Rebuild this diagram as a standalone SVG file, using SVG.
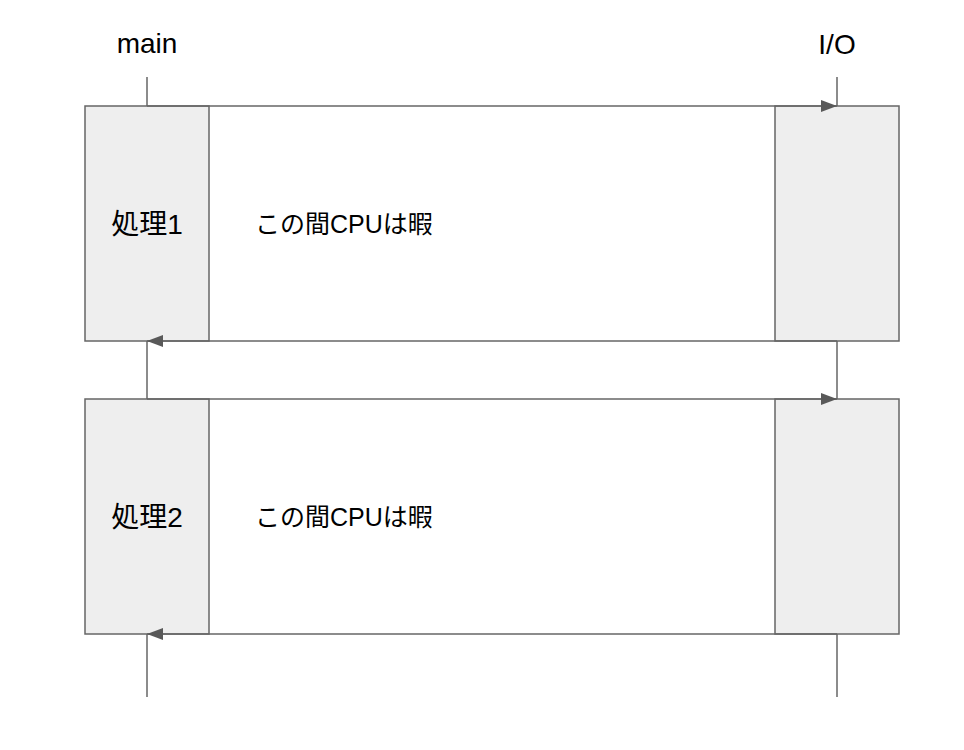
<svg xmlns="http://www.w3.org/2000/svg" width="964" height="750" viewBox="0 0 964 750">
<style>
.box{fill:#eeeeee;stroke:#666666;stroke-width:1.5}
.line{stroke:#666666;stroke-width:1.5;fill:none}
.lbl{font-family:"Liberation Sans","Noto Sans CJK JP",sans-serif;fill:#000000}
</style>
<defs>
<marker id="ah" markerUnits="userSpaceOnUse" markerWidth="16" markerHeight="12" refX="16" refY="6" orient="auto">
<path d="M0,0 L16,6 L0,12 Z" fill="#595959"/>
</marker>
</defs>
<rect width="964" height="750" fill="#ffffff"/>
<g id="lbl-main"><text class="lbl" x="147" y="53" font-size="28" text-anchor="middle">main</text></g>
<g id="lbl-io"><text class="lbl" x="837" y="54" font-size="28" text-anchor="middle">I/O</text></g>
<g id="main1"><rect class="box" x="85" y="106" width="124" height="235"/><text class="lbl" x="147" y="234" font-size="28" text-anchor="middle">処理1</text></g>
<g id="io1"><rect class="box" x="775" y="106" width="124" height="235"/></g>
<g id="idle1"><text class="lbl" x="255" y="233" font-size="25">この間CPUは暇</text></g>
<g id="main2"><rect class="box" x="85" y="399" width="124" height="235"/><text class="lbl" x="147" y="527" font-size="28" text-anchor="middle">処理2</text></g>
<g id="io2"><rect class="box" x="775" y="399" width="124" height="235"/></g>
<g id="idle2"><text class="lbl" x="255" y="526" font-size="25">この間CPUは暇</text></g>
<g id="connectors">
<line class="line" x1="147" y1="77" x2="147" y2="106"/>
<line class="line" x1="837" y1="77" x2="837" y2="106"/>
<line class="line" x1="147" y1="341" x2="147" y2="399"/>
<line class="line" x1="837" y1="341" x2="837" y2="399"/>
<line class="line" x1="147" y1="634" x2="147" y2="697"/>
<line class="line" x1="837" y1="634" x2="837" y2="697"/>
<line class="line" x1="147" y1="106" x2="837" y2="106" marker-end="url(#ah)"/>
<line class="line" x1="837" y1="341" x2="147" y2="341" marker-end="url(#ah)"/>
<line class="line" x1="147" y1="399" x2="837" y2="399" marker-end="url(#ah)"/>
<line class="line" x1="837" y1="634" x2="147" y2="634" marker-end="url(#ah)"/>
</g>
</svg>
